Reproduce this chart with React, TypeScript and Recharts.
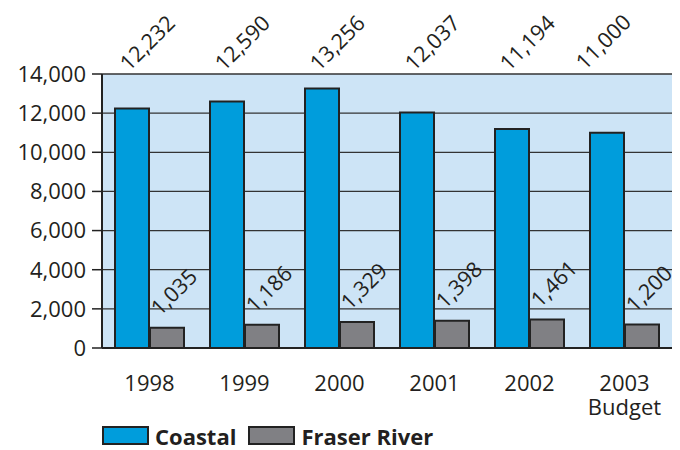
import React from 'react'
import { BarChart, Bar, XAxis, YAxis, CartesianGrid, LabelList } from 'recharts'

const years = ['1998', '1999', '2000', '2001', '2002', '2003']
const yearNotes = ['', '', '', '', '', 'Budget']
const coastal = [12232, 12590, 13256, 12037, 11194, 11000]
const fraserRiver = [1035, 1186, 1329, 1398, 1461, 1200]
const yTicks = [0, 2000, 4000, 6000, 8000, 10000, 12000, 14000]

const series = [
  { key: 'coastal', name: 'Coastal', color: '#009ddc' },
  { key: 'fraser', name: 'Fraser River', color: '#808084' }
]

const data = years.map((year, i) => ({
  year,
  note: yearNotes[i],
  coastal: coastal[i],
  fraser: fraserRiver[i]
}))

const FONT = '"Open Sans", sans-serif'
const INK = '#231f20'
const PLOT_TOP = 66

const fmt = (v: number) => v.toLocaleString('en-US')

// coastal labels all sit in a row above the plot; the last one is pulled left to stay on the page
const TopLabel = (props: any) => {
  const { x, width, value, index } = props
  const last = index === years.length - 1
  const lx = x + width / 2 - (last ? 22 : 3)
  const ly = PLOT_TOP - (last ? 3 : 2)
  return (
    <text
      x={lx}
      y={ly}
      transform={`rotate(-45, ${lx}, ${ly})`}
      fontSize={21.5}
      fontFamily={FONT}
      fill={INK}
    >
      {fmt(value)}
    </text>
  )
}

// fraser labels sit just above their bar
const BarLabel = (props: any) => {
  const { x, y, width, value } = props
  const lx = x + width / 2 - 7
  const ly = y - 11
  return (
    <text
      x={lx}
      y={ly}
      transform={`rotate(-45, ${lx}, ${ly})`}
      fontSize={21.5}
      fontFamily={FONT}
      fill={INK}
    >
      {fmt(value)}
    </text>
  )
}

const YearTick = (props: any) => {
  const { x, y, payload, index } = props
  const note = yearNotes[index]
  return (
    <g>
      <text x={x} y={y + 43} textAnchor="middle" fontSize={22} fontFamily={FONT} fill={INK}>
        {payload.value}
      </text>
      {note ? (
        <text x={x} y={y + 67} textAnchor="middle" fontSize={22} fontFamily={FONT} fill={INK}>
          {note}
        </text>
      ) : null}
    </g>
  )
}

const App: React.FC = () => {
  return (
    <div style={{ position: 'relative', width: 672, height: 442 }}>
      <BarChart
        width={672}
        height={442}
        data={data}
        margin={{ top: PLOT_TOP, right: 8, left: 0, bottom: 42 }}
        barGap={1}
        barSize={34}
        style={{ overflow: 'visible' }}
      >
        <CartesianGrid vertical={false} fill="#cde4f6" stroke="#333" strokeWidth={1.3} />
        <XAxis
          dataKey="year"
          height={60}
          tickLine={false}
          tickSize={0}
          tickMargin={0}
          axisLine={{ stroke: '#222', strokeWidth: 2 }}
          tick={<YearTick />}
          interval={0}
        />
        <YAxis
          width={94}
          domain={[0, 14000]}
          ticks={yTicks}
          tickFormatter={fmt}
          tickSize={10}
          tickMargin={6}
          axisLine={{ stroke: '#222', strokeWidth: 2 }}
          tickLine={{ stroke: '#222', strokeWidth: 1.5 }}
          tick={{ fontSize: 22, fontFamily: FONT, fill: INK }}
        />
        <Bar dataKey="coastal" fill={series[0].color} stroke="#222" strokeWidth={2} isAnimationActive={false}>
          <LabelList dataKey="coastal" content={<TopLabel />} />
        </Bar>
        <Bar dataKey="fraser" fill={series[1].color} stroke="#222" strokeWidth={2} isAnimationActive={false}>
          <LabelList dataKey="fraser" content={<BarLabel />} />
        </Bar>
      </BarChart>
      <div
        style={{
          position: 'absolute',
          left: 94,
          top: 418,
          display: 'flex',
          alignItems: 'center',
          fontFamily: FONT,
          fontWeight: 700,
          fontSize: 22,
          color: INK,
          lineHeight: '18px'
        }}
      >
        {series.map((s) => (
          <div key={s.key} style={{ display: 'flex', alignItems: 'center', marginRight: 12 }}>
            <div
              style={{
                width: 43,
                height: 15,
                background: s.color,
                border: '2px solid #222',
                marginRight: 6
              }}
            />
            <span>{s.name}</span>
          </div>
        ))}
      </div>
    </div>
  )
}

export default App
